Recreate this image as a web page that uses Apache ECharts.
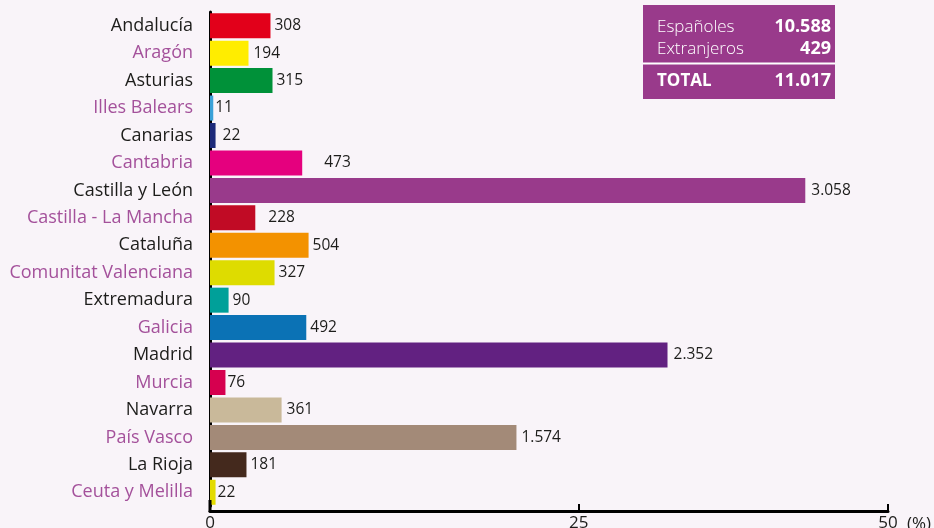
<!DOCTYPE html>
<html>
<head>
<meta charset="utf-8">
<script src="https://cdn.jsdelivr.net/npm/echarts@6/dist/echarts.min.js"></script>
<style>
html,body{margin:0;padding:0;background:#f9f4f9;}
#chart{width:934px;height:528px;}
</style>
</head>
<body>
<div id="chart"></div>
<script>
// ---- data ----
const regions = ["Andalucía","Aragón","Asturias","Illes Balears","Canarias","Cantabria","Castilla y León","Castilla - La Mancha","Cataluña","Comunitat Valenciana","Extremadura","Galicia","Madrid","Murcia","Navarra","País Vasco","La Rioja","Ceuta y Melilla"];
const percents = [4.46, 2.84, 4.61, 0.24, 0.41, 6.8, 43.9, 3.34, 7.27, 4.76, 1.37, 7.1, 33.74, 1.14, 5.28, 22.6, 2.69, 0.41];
const counts = ["308","194","315","11","22","473","3.058","228","504","327","90","492","2.352","76","361","1.574","181","22"];
const tickValues = [0, 27.2, 50];
const tickLabels = ["0", "25", "50"];
const summaryLabels = ["Españoles", "Extranjeros", "TOTAL"];
const summaryValues = ["10.588", "429", "11.017"];

// ---- styles ----
const barColors = ["#e2001a","#ffed00","#009139","#3aa1d8","#1d2a7a","#e5007e","#993a8b","#c10b25","#f39200","#dedc00","#00a099","#0b72b5","#622181","#d6004f","#c9b99a","#a38a78","#44291d","#e3db00"];
const labelGaps = [4,5,4,2,7,22,6,13,4,4,4,4,6,2,5,5,4,2];
const FONT = "'Open Sans', 'Noto Sans', sans-serif";
const PURPLE = "#a4519b";
const BOX = "#993a8b";

const chart = echarts.init(document.getElementById('chart'), null, {renderer:'canvas'});

const data = percents.map((v, i) => ({
  value: v,
  itemStyle: {color: barColors[i]},
  label: {distance: labelGaps[i]}
}));

const option = {
  backgroundColor: '#f9f4f9',
  animation: false,
  grid: {left: 210, right: 46, top: 12, bottom: 22, containLabel: false, outerBoundsMode: 'none'},
  xAxis: {
    type: 'value', min: 0, max: 50, offset: 5,
    axisLine: {show: true, lineStyle: {color: '#000', width: 3}},
    axisTick: {show: true, inside: true, length: 7, lineStyle: {color: '#000', width: 2}, customValues: tickValues},
    axisLabel: {
      customValues: tickValues,
      formatter: v => { const k = tickValues.indexOf(v); return k >= 0 ? tickLabels[k] : ''; },
      color: '#1d1d1b', fontSize: 17, fontFamily: FONT, margin: 4
    },
    splitLine: {show: false},
    name: '(%)', nameLocation: 'end', nameGap: 19,
    nameTextStyle: {color: '#1d1d1b', fontSize: 17, fontFamily: FONT, verticalAlign: 'top', padding: [5, 0, 0, 0]}
  },
  yAxis: {
    type: 'category', inverse: true, data: regions,
    axisLine: {show: true, lineStyle: {color: '#000', width: 3}},
    axisTick: {show: false},
    axisLabel: {
      fontSize: 18, fontFamily: FONT, margin: 17,
      color: (val, idx) => (idx % 2 === 1 ? PURPLE : '#1d1d1b')
    }
  },
  series: [{
    type: 'bar', data: data, barWidth: 25, z: 1,
    label: {show: true, position: 'right', formatter: p => counts[p.dataIndex], color: '#1d1d1b', fontSize: 15.5, fontFamily: FONT}
  }],
  graphic: [
    {type: 'line', shape: {x1: 210, y1: 500, x2: 210, y2: 512}, style: {stroke: '#000', lineWidth: 3}, z: 10},
    {type: 'rect', shape: {x: 643, y: 5, width: 192, height: 94}, style: {fill: BOX}, z: 10},
    {type: 'line', shape: {x1: 643, y1: 63.5, x2: 835, y2: 63.5}, style: {stroke: '#fff', lineWidth: 2}, z: 11},
    {type: 'text', x: 657, y: 27, style: {text: summaryLabels[0], fill: '#fff', font: '300 17px ' + FONT, textVerticalAlign: 'middle', textAlign: 'left'}, z: 11},
    {type: 'text', x: 657, y: 49, style: {text: summaryLabels[1], fill: '#fff', font: '300 17px ' + FONT, textVerticalAlign: 'middle', textAlign: 'left'}, z: 11},
    {type: 'text', x: 657, y: 81, style: {text: summaryLabels[2], fill: '#fff', font: 'bold 17px ' + FONT, textVerticalAlign: 'middle', textAlign: 'left'}, z: 11},
    {type: 'text', x: 831, y: 27, style: {text: summaryValues[0], fill: '#fff', font: 'bold 18px ' + FONT, textVerticalAlign: 'middle', textAlign: 'right'}, z: 11},
    {type: 'text', x: 831, y: 49, style: {text: summaryValues[1], fill: '#fff', font: 'bold 18px ' + FONT, textVerticalAlign: 'middle', textAlign: 'right'}, z: 11},
    {type: 'text', x: 831, y: 81, style: {text: summaryValues[2], fill: '#fff', font: 'bold 18px ' + FONT, textVerticalAlign: 'middle', textAlign: 'right'}, z: 11}
  ]
};
chart.setOption(option);
</script>
</body>
</html>
